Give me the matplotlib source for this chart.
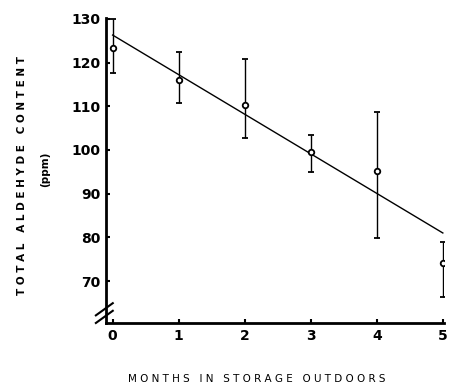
import numpy as np
import matplotlib
matplotlib.use('Agg')
import matplotlib.pyplot as plt

# ===== Data =====
months = [0, 1, 2, 3, 4, 5]
aldehyde = [123.4, 116.0, 110.2, 99.6, 95.1, 74.1]
err_hi = [130.0, 122.4, 120.8, 103.5, 108.6, 78.9]
err_lo = [117.7, 110.8, 102.8, 95.0, 79.8, 66.3]
fit_x = [0, 5]
fit_y = [126.3, 81.0]
yticks = [70, 80, 90, 100, 110, 120, 130]

y = np.array(aldehyde)
yerr = [y - np.array(err_lo), np.array(err_hi) - y]

fig = plt.figure(figsize=(4.5, 3.89), dpi=100)
ax = fig.add_axes([0.2356, 0.1697, 0.7514, 0.7840])

ax.errorbar(months, aldehyde, yerr=yerr, fmt='o', mfc='white', mec='black',
            ms=4, mew=1.3, ecolor='black', elinewidth=1.0, capsize=2, capthick=1.0)
ax.plot(fit_x, fit_y, 'k-', lw=1.0)

ax.set_xlim(-0.1, 5.02)
ax.set_ylim(60.4, 130.2)
ax.set_xticks(months)
ax.set_yticks(yticks)
ax.spines['top'].set_visible(False)
ax.spines['right'].set_visible(False)
ax.spines['left'].set_linewidth(2)
ax.spines['bottom'].set_linewidth(2)
ax.tick_params(direction='in', length=3, width=1.5, labelsize=10, pad=4)
for lbl in ax.get_xticklabels() + ax.get_yticklabels():
    lbl.set_fontweight('bold')

# axis break marks on the y axis
ax.plot([0.0, 0.0], [0.018, 0.05], transform=ax.transAxes, color='white',
        lw=3, clip_on=False)
for y0 in (0.0, 0.025):
    ax.plot([-0.03, 0.02], [y0, y0 + 0.04], transform=ax.transAxes,
            color='black', lw=1.5, clip_on=False)

fig.text(0.05, 0.55, 'T O T A L   A L D E H Y D E   C O N T E N T', rotation=90,
         ha='center', va='center', fontsize=7.5, fontweight='bold')
fig.text(0.10, 0.565, '(ppm)', rotation=90, ha='center', va='center',
         fontsize=7.5, fontweight='bold')
fig.text(0.57, 0.025, 'M O N T H S   I N   S T O R A G E   O U T D O O R S',
         ha='center', va='center', fontsize=7.5)

plt.savefig('out.png', dpi=100)
